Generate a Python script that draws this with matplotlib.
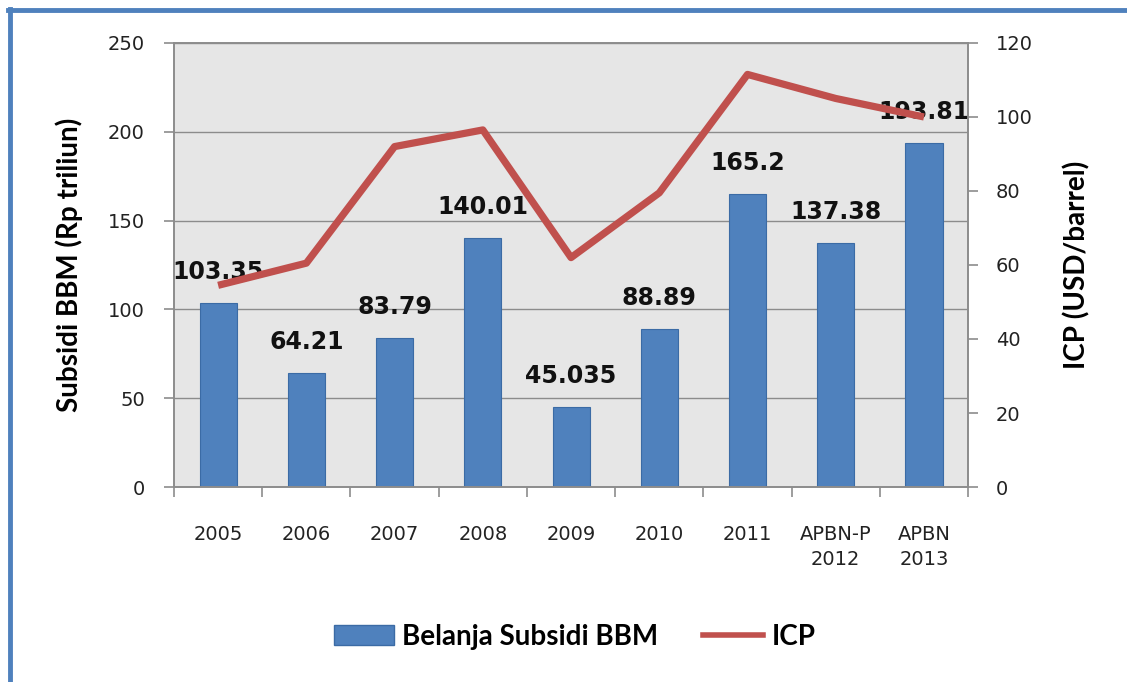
import matplotlib
matplotlib.use('Agg')
import matplotlib.pyplot as plt
from matplotlib.lines import Line2D
from matplotlib.patches import Patch
import numpy as np

categories = ['2005', '2006', '2007', '2008', '2009', '2010', '2011', 'APBN-P\n2012', 'APBN\n2013']
subsidi = [103.35, 64.21, 83.79, 140.01, 45.035, 88.89, 165.2, 137.38, 193.81]
subsidi_labels = ['103.35', '64.21', '83.79', '140.01', '45.035', '88.89', '165.2', '137.38', '193.81']
icp = [54.5, 60.5, 92.0, 96.5, 62.0, 79.5, 111.5, 105.0, 100.0]

BAR = '#4F81BD'
LINE = '#C0504D'
GRAY = '#8C8C8C'

fig = plt.figure(figsize=(11.27, 6.82), dpi=100, facecolor='white')
ax = fig.add_axes([0.1544, 0.2859, 0.7046, 0.6511])
ax.set_facecolor('#E6E6E6')

x = np.arange(len(categories))
ax.bar(x, subsidi, width=0.42, color=BAR, edgecolor='#3B6BA5', linewidth=0.8, zorder=2)
ax.set_ylim(0, 250)
ax.set_xlim(-0.5, len(categories) - 0.5)
ax.set_yticks([0, 50, 100, 150, 200, 250])
ax.yaxis.grid(True, color='#8C8C8C', linewidth=1.0, zorder=0)
ax.set_axisbelow(True)

# tick marks between categories
ax.set_xticks(np.arange(-0.5, len(categories), 1.0))
ax.set_xticklabels([])
ax.set_xticks(x, minor=True)
ax.set_xticklabels(categories, minor=True, fontsize=14, color='#222222', linespacing=1.4)
ax.tick_params(axis='x', which='minor', length=0, pad=27)
ax.tick_params(axis='x', which='major', length=7, color=GRAY, width=1.2)
ax.tick_params(axis='y', length=7, color=GRAY, width=1.2, labelsize=14, labelcolor='#222222', pad=14)

for s in ax.spines.values():
    s.set_color(GRAY)
    s.set_linewidth(1.2)

for xi, v, lab in zip(x, subsidi, subsidi_labels):
    ax.annotate(lab, (xi, v), xytext=(0, 31), textcoords='offset pixels',
                ha='center', va='center', fontsize=17, fontweight='bold',
                color='#111111', zorder=5)

ax.set_ylabel('Subsidi BBM (Rp triliun)', fontsize=20, fontweight='bold',
              family='Lato', labelpad=18)

ax2 = ax.twinx()
ax2.plot(x, icp, color=LINE, linewidth=5.2, solid_capstyle='butt', zorder=4)
ax2.set_ylim(0, 120)
ax2.set_yticks([0, 20, 40, 60, 80, 100, 120])
ax2.tick_params(axis='y', length=7, color=GRAY, width=1.2, labelsize=14, labelcolor='#222222', pad=13)
for s in ax2.spines.values():
    s.set_color(GRAY)
    s.set_linewidth(1.2)
ax2.set_ylabel('ICP (USD/barrel)', fontsize=20, fontweight='bold', family='Lato',
               labelpad=22)

# legend
handles = [Patch(facecolor=BAR, edgecolor='#3B6BA5', label='Belanja Subsidi BBM'),
           Line2D([0], [0], color=LINE, linewidth=4, label='ICP')]
fig.legend(handles=handles, loc='center', bbox_to_anchor=(0.51, 0.066), ncol=2,
           frameon=False, prop={'family': 'Lato', 'weight': 'bold', 'size': 20},
           handlelength=2.16, handleheight=0.72, handletextpad=0.3, columnspacing=1.6)

# blue frame (top and left)
fig.add_artist(Line2D([0.0075, 1.0], [0.985, 0.985], color=BAR, linewidth=3.5, transform=fig.transFigure))
fig.add_artist(Line2D([0.009, 0.009], [0.0, 0.987], color=BAR, linewidth=3.5, transform=fig.transFigure))

fig.savefig('out.png', dpi=100, facecolor='white')
